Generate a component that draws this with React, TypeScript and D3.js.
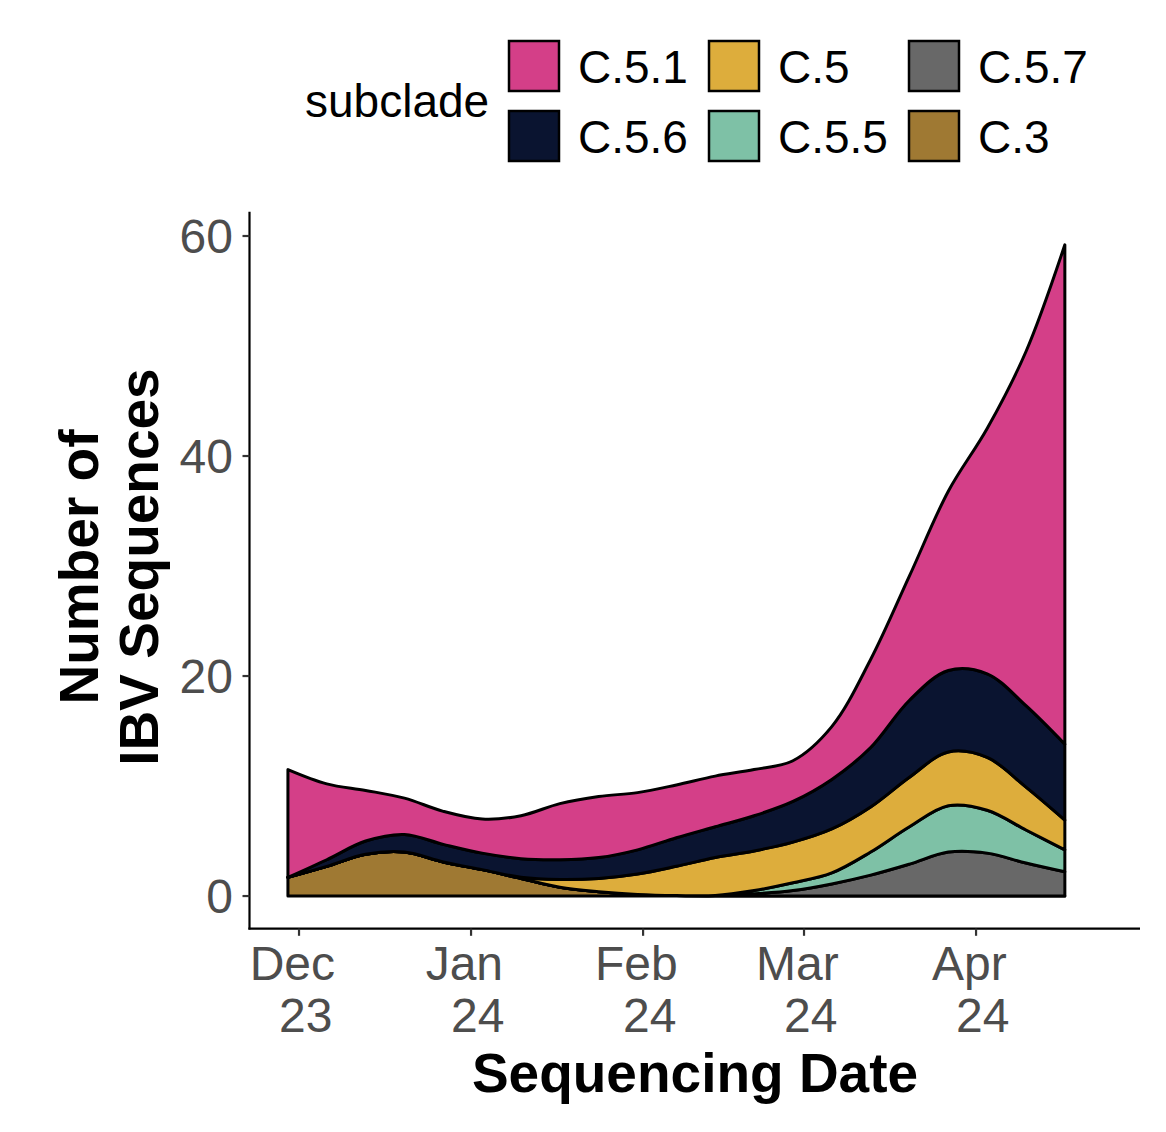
import * as d3 from 'd3';

// weekly sequencing dates (Wednesdays)
const START = new Date(2023, 10, 29);
const DATES: Date[] = d3.range(21).map((k) => d3.timeDay.offset(START, k * 7));

// stacking order: bottom -> top
const SUBCLADES = ['C.3', 'C.5.7', 'C.5.5', 'C.5', 'C.5.6', 'C.5.1'];

const C3 = [1.7, 2.7, 3.8, 4.0, 3.1, 2.4, 1.6, 0.8, 0.4, 0.15, 0.05, 0, 0, 0, 0, 0, 0, 0, 0, 0, 0];
const C57 = [0, 0, 0, 0, 0, 0, 0, 0, 0, 0, 0, 0.05, 0.2, 0.5, 1.1, 1.9, 2.9, 4.0, 3.9, 3.0, 2.2];
const C55 = [0, 0, 0, 0, 0, 0, 0, 0, 0, 0, 0, 0, 0.3, 0.7, 1.0, 2.1, 3.4, 4.2, 3.9, 3.0, 2.0];
const C5 = [0, 0, 0, 0, 0, 0, 0.1, 0.7, 1.2, 1.85, 2.65, 3.45, 3.6, 3.7, 4.0, 4.1, 4.5, 4.9, 4.8, 3.9, 2.7];
const C56 = [0, 0.6, 1.2, 1.6, 1.6, 1.5, 1.7, 1.8, 1.9, 2.2, 2.6, 2.8, 3.2, 3.7, 4.5, 5.4, 7.0, 7.4, 7.6, 7.4, 6.9];
const C51 = [9.8, 6.9, 4.6, 3.3, 3.0, 3.1, 3.9, 5.1, 5.55, 5.2, 4.8, 4.6, 4.2, 3.7, 4.8, 8.0, 11.3, 16.3, 22.3, 32.2, 45.4];

const SERIES: Record<string, number[]> = {
  'C.3': C3,
  'C.5.7': C57,
  'C.5.5': C55,
  'C.5': C5,
  'C.5.6': C56,
  'C.5.1': C51,
};

const COLORS: Record<string, string> = {
  'C.5.1': '#D43F88',
  'C.5.6': '#0A1430',
  'C.5': '#DDAD3C',
  'C.5.5': '#7EC1A6',
  'C.5.7': '#686868',
  'C.3': '#9F7933',
};

// legend is laid out column-wise, two rows
const LEGEND_ORDER = ['C.5.1', 'C.5.6', 'C.5', 'C.5.5', 'C.5.7', 'C.3'];

const Y_TICKS = [0, 20, 40, 60];
const X_TICKS = [
  new Date(2023, 11, 1),
  new Date(2024, 0, 1),
  new Date(2024, 1, 1),
  new Date(2024, 2, 1),
  new Date(2024, 3, 1),
];

const FONT = 'Liberation Sans, Arial, Helvetica, sans-serif';

export default function App() {
  const width = 1166;
  const height = 1132;

  const x = d3
    .scaleTime()
    .domain([new Date(2023, 10, 22, 4), new Date(2024, 3, 30, 13)])
    .range([250, 1140]);

  const y = d3.scaleLinear().domain([-2.96, 62.2]).range([928.6, 211.8]);

  const rows = DATES.map((d, i) => {
    const r: Record<string, any> = { date: d };
    SUBCLADES.forEach((s) => (r[s] = SERIES[s][i]));
    return r;
  });

  const stacked = d3.stack<any>().keys(SUBCLADES)(rows);

  const area = d3
    .area<any>()
    .x((d) => x(d.data.date))
    .y0((d) => y(d[0]))
    .y1((d) => y(d[1]))
    .curve(d3.curveCatmullRom.alpha(0.5));

  const fmtMonth = d3.timeFormat('%b');
  const fmtYear = d3.timeFormat('%y');

  return (
    <svg
      width={width}
      height={height}
      style={{ position: 'absolute', left: 0, top: 0, background: '#fff' }}
      fontFamily={FONT}
    >
      {/* stacked areas */}
      <g>
        {stacked.map((layer) => (
          <path
            key={layer.key}
            d={area(layer) || ''}
            fill={COLORS[layer.key]}
            stroke="#000"
            strokeWidth={3}
            strokeLinejoin="round"
          />
        ))}
      </g>

      {/* y axis */}
      <line x1={249.5} x2={249.5} y1={211.8} y2={929.5} stroke="#000" strokeWidth={2.2} />
      {Y_TICKS.map((t) => (
        <g key={t}>
          <line x1={242.5} x2={249.5} y1={y(t)} y2={y(t)} stroke="#333" strokeWidth={2.2} />
          <text
            x={233}
            y={y(t)}
            dy="0.36em"
            textAnchor="end"
            fontSize={48}
            fill="#4D4D4D"
          >
            {t}
          </text>
        </g>
      ))}

      {/* x axis */}
      <line x1={248.4} x2={1140} y1={928.6} y2={928.6} stroke="#000" strokeWidth={2.2} />
      {X_TICKS.map((t) => (
        <g key={t.toISOString()}>
          <line x1={x(t)} x2={x(t)} y1={928.6} y2={935.8} stroke="#333" strokeWidth={2.2} />
          <text x={x(t) - 6.7} y={980} textAnchor="middle" fontSize={48} fill="#4D4D4D">
            {fmtMonth(t)}
          </text>
          <text x={x(t) + 6.7} y={1032} textAnchor="middle" fontSize={48} fill="#4D4D4D">
            {fmtYear(t)}
          </text>
        </g>
      ))}

      {/* axis titles */}
      <text x={695} y={1092} textAnchor="middle" fontSize={55} fontWeight="bold" fill="#000">
        Sequencing Date
      </text>
      <g transform="translate(98,567) rotate(-90)">
        <text x={0} y={0} textAnchor="middle" fontSize={55} fontWeight="bold" fill="#000">
          Number of
        </text>
        <text x={0} y={60} textAnchor="middle" fontSize={55} fontWeight="bold" fill="#000">
          IBV Sequences
        </text>
      </g>

      {/* legend */}
      <text x={305} y={117} fontSize={46} fill="#000">
        subclade
      </text>
      {LEGEND_ORDER.map((s, i) => {
        const col = Math.floor(i / 2);
        const row = i % 2;
        const kx = 509 + col * 200;
        const ky = 41 + row * 70;
        return (
          <g key={s}>
            <rect
              x={kx}
              y={ky}
              width={50}
              height={50}
              fill={COLORS[s]}
              stroke="#000"
              strokeWidth={2.5}
            />
            <text x={kx + 69} y={ky + 42} fontSize={46} fill="#000">
              {s}
            </text>
          </g>
        );
      })}
    </svg>
  );
}
